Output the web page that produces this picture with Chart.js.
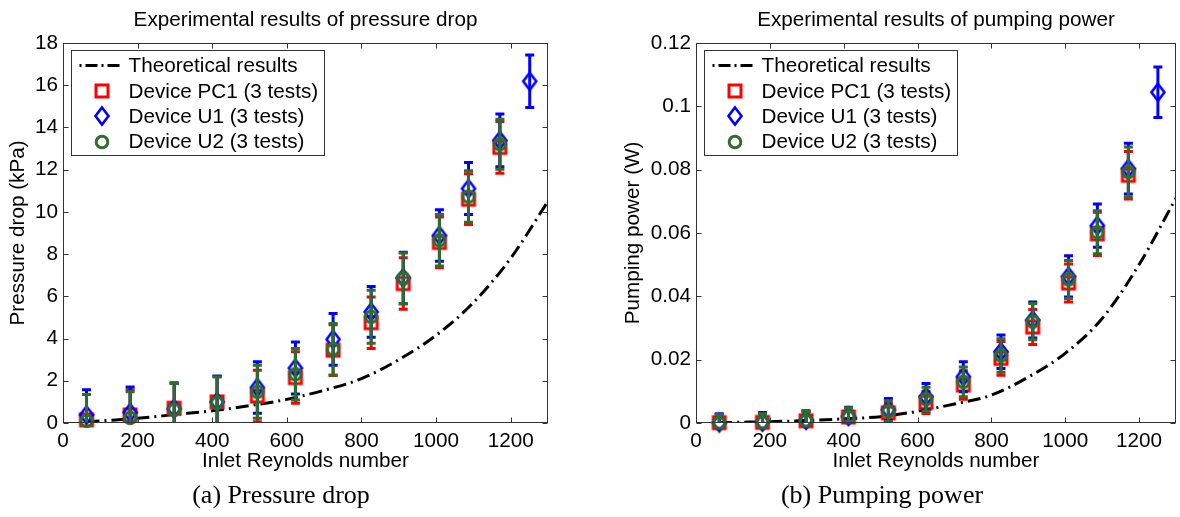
<!DOCTYPE html>
<html>
<head>
<meta charset="utf-8">
<script src="https://cdn.jsdelivr.net/npm/chart.js@4.4.0/dist/chart.umd.min.js"></script>
<style>
  html, body { margin: 0; padding: 0; background: #fff; overflow: hidden; }
  body { width: 1180px; height: 517px; position: relative; }
  canvas { position: absolute; top: 0; }
  #dropChart { left: 0; }
  #powerChart { left: 590px; }
  .caption {
    position: absolute; top: 479px; width: 400px; text-align: center;
    font-family: "Liberation Serif", "DejaVu Serif", serif; font-size: 26px;
    line-height: 32px; color: #000;
  }
</style>
</head>
<body>
<canvas id="dropChart" width="590" height="480"></canvas>
<canvas id="powerChart" width="594" height="480"></canvas>
<div class="caption" style="left:81px">(a) Pressure drop</div>
<div class="caption" style="left:682px">(b) Pumping power</div>
<script>
// Reynolds numbers of the test points (U1 has one extra point)
const reynolds = [63, 180, 298, 413, 521, 623, 724, 826, 912, 1009, 1087, 1171];
const reynoldsU1 = [63, 180, 298, 413, 521, 623, 724, 826, 912, 1009, 1087, 1171, 1251];

// theoretical curves
const theoryRe = [63, 100, 200, 300, 400, 500, 600, 700, 800, 900, 1000, 1100, 1200, 1300];
const theoryDrop = [0.05, 0.1, 0.22, 0.4, 0.58, 0.82, 1.12, 1.55, 2.1, 3.0, 4.15, 5.7, 7.8, 10.5];
const theoryPower = [0.0001, 0.0002, 0.0004, 0.0008, 0.0013, 0.002, 0.0037, 0.006, 0.0088, 0.0145, 0.022, 0.033, 0.05, 0.071];

// pressure drop (kPa) and error
const dropPC1 = [0.15, 0.38, 0.7, 1.0, 1.28, 2.15, 3.45, 4.75, 6.6, 8.55, 10.6, 13.05];
const dropPC1Err = [1.2, 1.2, 1.2, 1.2, 1.22, 1.22, 1.2, 1.22, 1.22, 1.2, 1.2, 1.23];
const dropU1 = [0.38, 0.5, 0.68, 1.0, 1.68, 2.6, 3.96, 5.26, 6.87, 8.88, 11.1, 13.38, 16.18];
const dropU1Err = [1.2, 1.2, 1.2, 1.22, 1.22, 1.23, 1.22, 1.2, 1.22, 1.22, 1.23, 1.25, 1.24];
const dropU2 = [0.1, 0.24, 0.63, 0.96, 1.48, 2.31, 3.49, 5.03, 6.85, 8.65, 10.72, 13.2];
const dropU2Err = [1.25, 1.24, 1.24, 1.22, 1.26, 1.22, 1.22, 1.25, 1.2, 1.22, 1.22, 1.18];

// pumping power (W) and error
const powerPC1 = [0.0001, 0.0002, 0.0007, 0.0019, 0.0032, 0.0065, 0.012, 0.0204, 0.0303, 0.0442, 0.0597, 0.0782];
const powerPC1Err = [0.0026, 0.0027, 0.0028, 0.0028, 0.003, 0.0035, 0.0045, 0.0053, 0.0055, 0.006, 0.0068, 0.0075];
const powerU1 = [0.0001, 0.0003, 0.0009, 0.0021, 0.0042, 0.0083, 0.0146, 0.0225, 0.0325, 0.0463, 0.0623, 0.0803, 0.1044];
const powerU1Err = [0.0028, 0.003, 0.003, 0.0029, 0.0035, 0.0042, 0.0047, 0.0053, 0.0057, 0.0065, 0.0068, 0.008, 0.008];
const powerU2 = [0.0001, 0.0002, 0.0008, 0.002, 0.0037, 0.0075, 0.013, 0.0213, 0.032, 0.0453, 0.0602, 0.0792];
const powerU2Err = [0.0026, 0.0027, 0.0028, 0.0028, 0.0033, 0.0038, 0.0047, 0.0053, 0.0057, 0.006, 0.0068, 0.0079];

const RED = '#ff0000', BLUE = '#0000ff', GREEN = '#2d6e2d';
const FONT = '"Liberation Sans", Arial, sans-serif';
const FSIZE = 20.7;

function marker(kind, color) {
  const c = document.createElement('canvas');
  c.width = 22; c.height = 22;
  const g = c.getContext('2d');
  g.strokeStyle = color;
  g.lineWidth = kind === 'diamond' ? 2.6 : 3;
  g.beginPath();
  if (kind === 'square') g.rect(5, 5, 12, 12);
  else if (kind === 'diamond') { g.moveTo(11, 2.5); g.lineTo(17.5, 11); g.lineTo(11, 19.5); g.lineTo(4.5, 11); g.closePath(); }
  else g.arc(11, 11, 5.8, 0, Math.PI * 2);
  g.stroke();
  return c;
}

const pts = (xs, ys) => xs.map((x, i) => ({x: x, y: ys[i]}));

// error bars drawn right before each dataset's markers
const errorBars = {
  id: 'errorBars',
  beforeDatasetDraw(chart, args) {
    const ds = chart.data.datasets[args.index];
    if (!ds.errors) return;
    const {ctx, chartArea: a, scales: {x, y}} = chart;
    ctx.save();
    ctx.beginPath();
    ctx.rect(a.left, a.top, a.width, a.height);
    ctx.clip();
    ctx.strokeStyle = ds.borderColor;
    ctx.lineWidth = 3;
    ds.data.forEach((p, i) => {
      const px = x.getPixelForValue(p.x);
      const top = y.getPixelForValue(p.y + ds.errors[i]);
      const bot = y.getPixelForValue(p.y - ds.errors[i]);
      ctx.beginPath();
      ctx.moveTo(px, top); ctx.lineTo(px, bot);
      ctx.moveTo(px - 4.5, top); ctx.lineTo(px + 4.5, top);
      ctx.moveTo(px - 4.5, bot); ctx.lineTo(px + 4.5, bot);
      ctx.stroke();
    });
    ctx.restore();
  }
};

// matlab style box with inward ticks
const frame = {
  id: 'frame',
  afterDatasetsDraw(chart) {
    const {ctx, chartArea: a, scales: {x, y}} = chart;
    const l = Math.round(a.left) + 0.5, r = Math.round(a.right) - 0.5;
    const t = Math.round(a.top) + 0.5, b = Math.round(a.bottom) - 0.5;
    ctx.save();
    ctx.strokeStyle = '#333';
    ctx.lineWidth = 1;
    ctx.strokeRect(l, t, r - l, b - t);
    ctx.beginPath();
    x.ticks.forEach(tk => {
      const px = Math.round(x.getPixelForValue(tk.value)) + 0.5;
      ctx.moveTo(px, b); ctx.lineTo(px, b - 5);
      ctx.moveTo(px, t); ctx.lineTo(px, t + 5);
    });
    y.ticks.forEach(tk => {
      const py = Math.round(y.getPixelForValue(tk.value)) + 0.5;
      ctx.moveTo(l, py); ctx.lineTo(l + 5, py);
      ctx.moveTo(r, py); ctx.lineTo(r - 5, py);
    });
    ctx.stroke();
    ctx.restore();
  }
};

// boxed legend in the upper left corner of the plot
const boxLegend = {
  id: 'boxLegend',
  afterDraw(chart) {
    const {ctx, chartArea: a} = chart;
    const sets = chart.data.datasets;
    ctx.save();
    ctx.font = FSIZE + 'px ' + FONT;
    const textW = Math.max(...sets.map(d => ctx.measureText(d.label).width));
    const bx = Math.round(a.left) + 8.5, by = Math.round(a.top) + 7.5;
    const bw = Math.round(57 + textW + 6), bh = 105;
    ctx.fillStyle = '#fff';
    ctx.fillRect(bx, by, bw, bh);
    ctx.strokeStyle = '#333';
    ctx.lineWidth = 1;
    ctx.strokeRect(bx, by, bw, bh);
    sets.forEach((d, i) => {
      const ry = by + 15 + i * 25.4;
      if (d.showLine) {
        ctx.save();
        ctx.strokeStyle = d.borderColor;
        ctx.lineWidth = 3;
        ctx.setLineDash([2, 4, 12, 4]);
        ctx.beginPath();
        ctx.moveTo(bx + 8, ry); ctx.lineTo(bx + 48, ry);
        ctx.stroke();
        ctx.restore();
      } else {
        ctx.drawImage(d.pointStyle, Math.round(bx + 30 - 11), Math.round(ry - 11));
      }
      ctx.fillStyle = '#000';
      ctx.textBaseline = 'middle';
      ctx.fillText(d.label, bx + 57, ry + 1);
    });
    ctx.restore();
  }
};

function makeChart(id, cfg) {
  return new Chart(document.getElementById(id), {
    type: 'scatter',
    data: {
      datasets: [
        {
          label: 'Theoretical results',
          data: pts(theoryRe, cfg.theory),
          showLine: true,
          borderColor: '#000',
          borderWidth: 3,
          borderDash: [13, 5, 2, 5],
          pointRadius: 0,
          cubicInterpolationMode: 'monotone',
          order: 4
        },
        {
          label: 'Device PC1 (3 tests)',
          data: pts(reynolds, cfg.pc1),
          errors: cfg.pc1Err,
          borderColor: RED,
          pointStyle: marker('square', RED),
          pointRadius: 7,
          clip: false,
          order: 3
        },
        {
          label: 'Device U1 (3 tests)',
          data: pts(reynoldsU1, cfg.u1),
          errors: cfg.u1Err,
          borderColor: BLUE,
          pointStyle: marker('diamond', BLUE),
          pointRadius: 7,
          clip: false,
          order: 2
        },
        {
          label: 'Device U2 (3 tests)',
          data: pts(reynolds, cfg.u2),
          errors: cfg.u2Err,
          borderColor: GREEN,
          pointStyle: marker('circle', GREEN),
          pointRadius: 7,
          clip: false,
          order: 1
        }
      ]
    },
    options: {
      responsive: false,
      animation: false,
      events: [],
      layout: { padding: { left: cfg.padLeft, right: cfg.padRight, top: 0, bottom: 0 } },
      scales: {
        x: {
          type: 'linear', min: 0, max: 1300,
          grid: { display: false, drawTicks: false },
          border: { display: false },
          ticks: { stepSize: 200, includeBounds: false, padding: 6, color: '#000', font: { family: FONT, size: FSIZE },
                   callback: v => String(v) },
          title: { display: true, text: 'Inlet Reynolds number', color: '#000', padding: { top: 0, bottom: 6 }, font: { family: FONT, size: FSIZE } },
          afterFit: s => { s.height = 57; }
        },
        y: {
          type: 'linear', min: 0, max: cfg.yMax,
          grid: { display: false, drawTicks: false },
          border: { display: false },
          ticks: { stepSize: cfg.yStep, includeBounds: false, padding: 5, color: '#000', font: { family: FONT, size: FSIZE },
                   callback: v => String(+v.toFixed(3)) },
          title: { display: true, text: cfg.yTitle, color: '#000', padding: { top: 4, bottom: 0 }, font: { family: FONT, size: FSIZE } },
          afterFit: s => { s.width = cfg.yWidth; }
        }
      },
      plugins: {
        legend: { display: false },
        tooltip: { enabled: false },
        title: {
          display: true, text: cfg.title, color: '#000', fullSize: false,
          padding: { top: 8, bottom: 10 }, font: { family: FONT, size: FSIZE, weight: 'normal' }
        }
      }
    },
    plugins: [errorBars, frame, boxLegend]
  });
}

makeChart('dropChart', {
  title: 'Experimental results of pressure drop',
  yTitle: 'Pressure drop (kPa)',
  yMax: 18, yStep: 2,
  theory: theoryDrop,
  pc1: dropPC1, pc1Err: dropPC1Err,
  u1: dropU1, u1Err: dropU1Err,
  u2: dropU2, u2Err: dropU2Err,
  padLeft: 2, padRight: 42, yWidth: 61
});

makeChart('powerChart', {
  title: 'Experimental results of pumping power',
  yTitle: 'Pumping power (W)',
  yMax: 0.12, yStep: 0.02,
  theory: theoryPower,
  pc1: powerPC1, pc1Err: powerPC1Err,
  u1: powerU1, u1Err: powerU1Err,
  u2: powerU2, u2Err: powerU2Err,
  padLeft: 27, padRight: 3, yWidth: 79
});
</script>
</body>
</html>
